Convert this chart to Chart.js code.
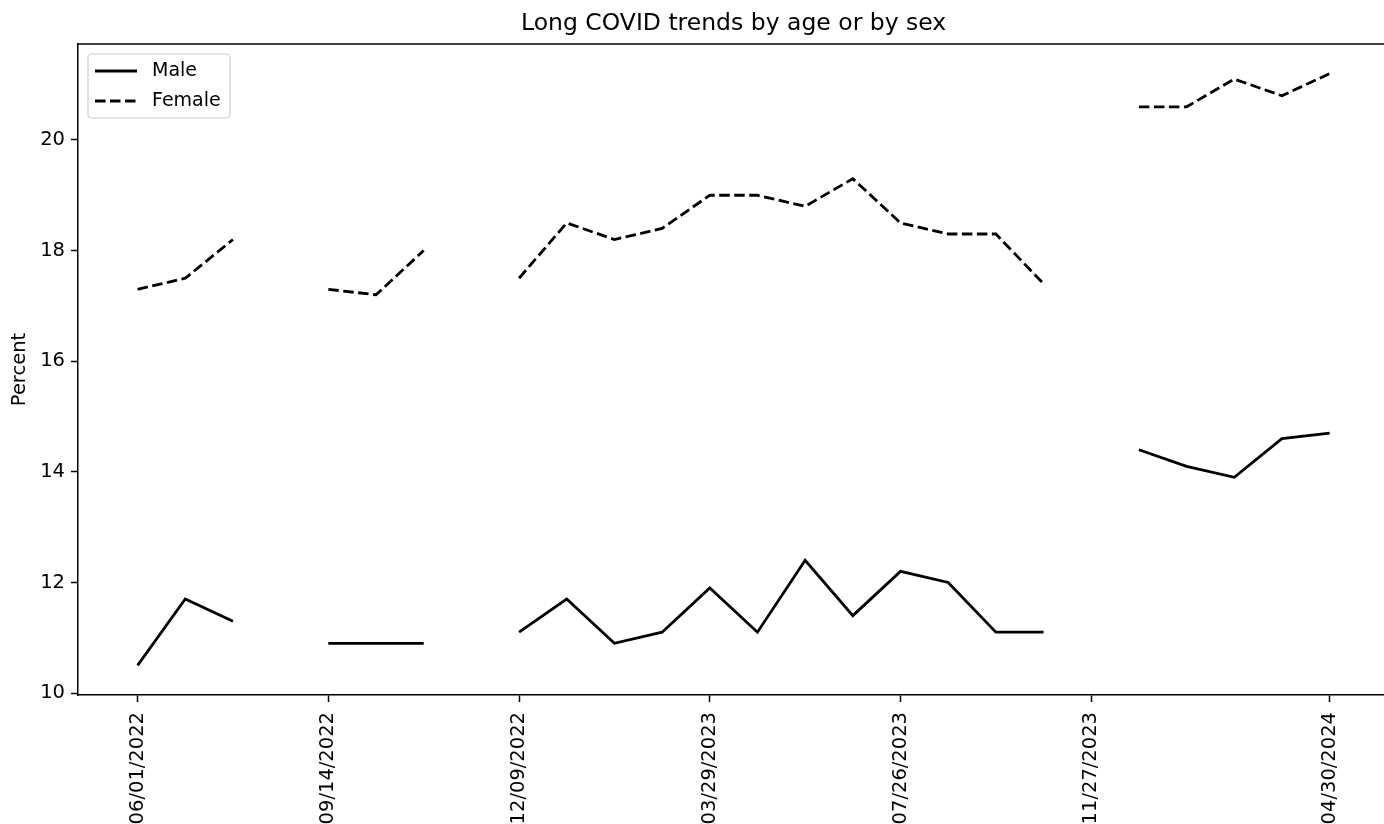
<!DOCTYPE html>
<html>
<head>
<meta charset="utf-8">
<title>Long COVID trends by age or by sex</title>
<script src="https://cdn.jsdelivr.net/npm/chart.js@4.4.1/dist/chart.umd.min.js"></script>
<style>
  html, body { margin: 0; padding: 0; background: #fff; overflow: hidden; }
  #wrap { width: 1384px; height: 824px; }
</style>
</head>
<body>
<div id="wrap"><canvas id="chart" width="1384" height="824"></canvas></div>
<script>
const chartTitle = 'Long COVID trends by age or by sex';

// survey period labels (only every 4th one and the last are shown on the axis)
const dates = [
  '06/01/2022', '06/26/2022', '07/27/2022', '08/08/2022',
  '09/14/2022', '10/05/2022', '10/17/2022', '11/02/2022',
  '12/09/2022', '01/04/2023', '02/01/2023', '03/01/2023',
  '03/29/2023', '04/26/2023', '05/24/2023', '06/21/2023',
  '07/26/2023', '08/23/2023', '09/20/2023', '10/18/2023',
  '11/27/2023', '01/09/2024', '02/06/2024', '03/05/2024',
  '04/02/2024', '04/30/2024'
];
const shownTicks = [0, 4, 8, 12, 16, 20, 25];

const male = [
  10.5, 11.7, 11.3, null,
  10.9, 10.9, 10.9, null,
  11.1, 11.7, 10.9, 11.1,
  11.9, 11.1, 12.4, 11.4,
  12.2, 12.0, 11.1, 11.1,
  null, 14.4, 14.1, 13.9,
  14.6, 14.7
];
const female = [
  17.3, 17.5, 18.2, null,
  17.3, 17.2, 18.0, null,
  17.5, 18.5, 18.2, 18.4,
  19.0, 19.0, 18.8, 19.3,
  18.5, 18.3, 18.3, 17.4,
  null, 20.6, 20.6, 21.1,
  20.8, 21.2
];
const yTicks = [10, 12, 14, 16, 18, 20];

const toPoints = (arr) => arr.map((v, i) => ({ x: i, y: v }));

const FONT = 'DejaVu Sans';

// title centred on the whole axes, top spine (the right one is cut off) and legend box
const framePlugin = {
  id: 'frame',
  afterDraw(chart) {
    const { ctx, chartArea: a } = chart;
    const xs = chart.scales.x;
    ctx.save();

    // title: matplotlib centres it over the axes, which run past the right edge
    ctx.font = '23.5px "' + FONT + '"';
    ctx.fillStyle = '#000';
    ctx.textAlign = 'center';
    ctx.textBaseline = 'middle';
    ctx.fillText(chartTitle, xs.getPixelForValue(12.5), 24);

    ctx.strokeStyle = '#000';
    ctx.lineWidth = 1.5;
    ctx.beginPath();
    ctx.moveTo(a.left, a.top);
    ctx.lineTo(chart.width, a.top);
    ctx.stroke();

    // legend
    const x = a.left + 10, y = a.top + 10, w = 142, h = 64;
    ctx.beginPath();
    ctx.roundRect(x, y, w, h, 4);
    ctx.fillStyle = 'rgba(255,255,255,0.8)';
    ctx.fill();
    ctx.strokeStyle = '#cccccc';
    ctx.lineWidth = 1.2;
    ctx.stroke();

    ctx.font = '19px "' + FONT + '"';
    ctx.textAlign = 'left';
    ctx.fillStyle = '#000';
    chart.data.datasets.forEach((ds, i) => {
      const ly = y + 17 + i * 30;
      ctx.beginPath();
      ctx.setLineDash(ds.borderDash || []);
      ctx.strokeStyle = '#000';
      ctx.lineWidth = ds.borderWidth;
      ctx.moveTo(x + 7, ly);
      ctx.lineTo(x + 49, ly);
      ctx.stroke();
      ctx.setLineDash([]);
      ctx.fillText(ds.label, x + 64, ly);
    });
    ctx.restore();
  }
};

new Chart(document.getElementById('chart'), {
  type: 'line',
  data: {
    datasets: [
      {
        label: 'Male',
        data: toPoints(male),
        borderColor: '#000',
        borderWidth: 2.8,
        pointRadius: 0,
        spanGaps: false,
        fill: false
      },
      {
        label: 'Female',
        data: toPoints(female),
        borderColor: '#000',
        borderWidth: 2.8,
        borderDash: [10.5, 4.5],
        pointRadius: 0,
        spanGaps: false,
        fill: false
      }
    ]
  },
  options: {
    responsive: false,
    animation: false,
    layout: { padding: { top: 44, left: 0, right: 0, bottom: 0 } },
    plugins: {
      legend: { display: false },
      tooltip: { enabled: false },
      title: { display: false }
    },
    scales: {
      x: {
        type: 'linear',
        min: -1.25,
        max: 26.14,
        afterBuildTicks: (scale) => {
          scale.ticks = shownTicks.map(v => ({ value: v }));
        },
        afterFit: (scale) => { scale.height = 129; },
        ticks: {
          autoSkip: false,
          minRotation: 90,
          maxRotation: 90,
          padding: 10,
          color: '#000',
          font: { family: FONT, size: 19.5 },
          callback: (value) => dates[value]
        },
        grid: {
          drawOnChartArea: false,
          tickLength: 7,
          tickColor: '#000',
          tickWidth: 1.5
        },
        border: { display: true, color: '#000', width: 1.5 }
      },
      y: {
        min: 9.965,
        max: 21.735,
        afterBuildTicks: (scale) => {
          scale.ticks = yTicks.map(v => ({ value: v }));
        },
        afterFit: (scale) => { scale.width = 78; },
        title: {
          display: true,
          text: 'Percent',
          color: '#000',
          font: { family: FONT, size: 19.5 },
          padding: { top: 8, bottom: 0 }
        },
        ticks: {
          padding: 6,
          color: '#000',
          font: { family: FONT, size: 19.5 }
        },
        grid: {
          drawOnChartArea: false,
          tickLength: 7,
          tickColor: '#000',
          tickWidth: 1.5
        },
        border: { display: true, color: '#000', width: 1.5 }
      }
    }
  },
  plugins: [framePlugin]
});
</script>
</body>
</html>
